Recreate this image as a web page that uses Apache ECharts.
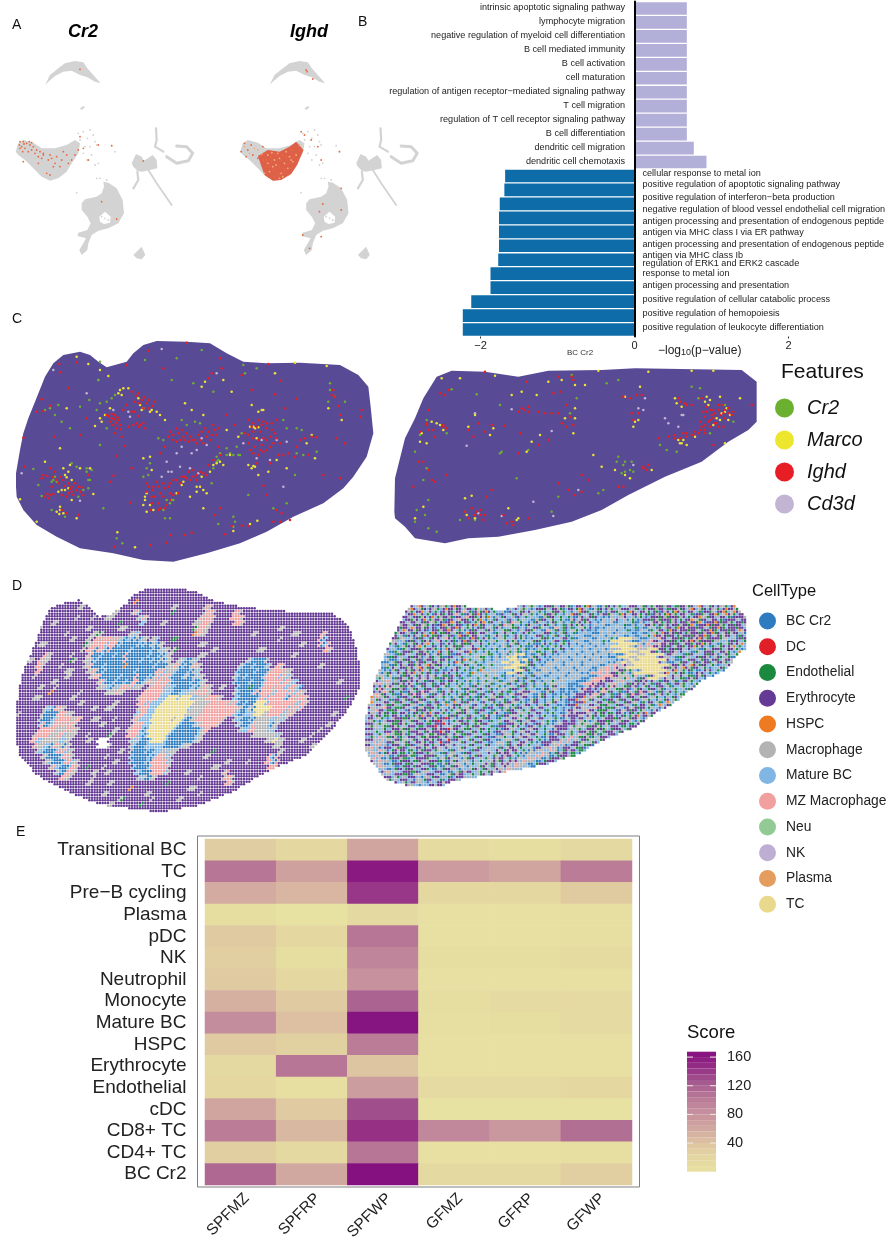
<!DOCTYPE html>
<html><head><meta charset="utf-8"><style>html,body{margin:0;padding:0;background:#fff}#c{width:887px;height:1243px}</style>
<script src="https://cdn.jsdelivr.net/npm/echarts@6/dist/echarts.min.js"></script></head><body><div id="c"></div>
<script>
// ---------- B: enrichment bars
const upTerms=["intrinsic apoptotic signaling pathway","lymphocyte migration","negative regulation of myeloid cell differentiation","B cell mediated immunity","B cell activation","cell maturation","regulation of antigen receptor\u2212mediated signaling pathway","T cell migration","regulation of T cell receptor signaling pathway","B cell differentiation","dendritic cell migration","dendritic cell chemotaxis"];
const upValues=[0.68,0.68,0.68,0.68,0.68,0.68,0.68,0.68,0.68,0.68,0.77,0.935];
const downTerms=["cellular response to metal ion","positive regulation of apoptotic signaling pathway","positive regulation of interferon\u2212beta production","negative regulation of blood vessel endothelial cell migration","antigen processing and presentation of endogenous peptide\nantigen via MHC class I via ER pathway","antigen processing and presentation of endogenous peptide\nantigen via MHC class Ib","regulation of ERK1 and ERK2 cascade","response to metal ion","antigen processing and presentation","positive regulation of cellular catabolic process","positive regulation of hemopoiesis","positive regulation of leukocyte differentiation"];
const downValues=[-1.68,-1.69,-1.75,-1.76,-1.76,-1.76,-1.77,-1.87,-1.87,-2.12,-2.23,-2.23];
// ---------- E: heatmap
const heatRows=["Transitional BC","TC","Pre\u2212B cycling","Plasma","pDC","NK","Neutrophil","Monocyte","Mature BC","HSPC","Erythrocyte","Endothelial","cDC","CD8+ TC","CD4+ TC","BC Cr2"];
const heatSamples=["SPFMZ","SPFRP","SPFWP","GFMZ","GFRP","GFWP"];
const heatValues=[[30,18,62,12,8,15],[105,66,160,72,62,100],[58,50,142,17,17,32],[8,3,16,4,4,6],[33,18,105,4,4,6],[28,10,92,8,8,12],[33,18,80,5,5,5],[55,33,118,10,14,14],[85,42,163,6,10,14],[33,26,100,5,5,5],[16,105,38,5,5,5],[17,6,70,14,14,18],[62,33,130,3,3,3],[100,48,145,90,75,110],[28,16,105,4,4,6],[115,60,166,16,16,28]];
const scoreBins=[0,8,16,24,32,40,48,56,64,72,80,88,96,104,112,120,128,136,144,152,160,168];
const scoreColors=["#E8E3A2","#E3D6A0","#DDC1A2","#D0A59F","#C58F9E","#B87896","#A55A8F","#952F85","#851180"];
// ---------- A: UMAP shapes and expressing cells
const umapBlobs=[
[[135,255],[150,225],[175,205],[195,190],[225,183],[250,187],[262,205],[280,225],[302,250],[285,245],[262,232],[240,225],[215,212],[190,215],[165,228],[145,245]],
[[240,325],[250,318],[255,322],[245,330]],
[[47,455],[55,430],[70,420],[100,428],[125,445],[165,445],[200,435],[225,420],[240,430],[235,460],[215,490],[200,515],[175,535],[150,542],[125,530],[100,505],[75,480],[55,465]],
[[245,610],[255,598],[290,590],[305,580],[312,560],[310,545],[325,548],[350,565],[368,600],[372,640],[355,670],[325,685],[295,692],[275,705],[265,730],[262,750],[245,765],[238,750],[250,730],[258,715],[232,708],[235,698],[262,690],[272,670],[262,650],[245,630]],
[[400,765],[425,740],[436,765],[425,778],[410,775]],
[[395,490],[408,462],[425,470],[432,482],[458,465],[470,480],[472,505],[450,510],[425,515],[412,512],[400,500]]];
const umapHole=[[298,650],[315,635],[332,650],[330,668],[312,672],[300,665]];
const umapStrokes=[[[468,385],[470,420],[465,440],[490,455]],[[500,470],[530,490],[565,482],[578,460],[560,440],[530,438]],[[412,515],[415,540],[400,565]],[[445,510],[470,550],[515,615]]];
const umapSparse=[235,400,250,395,270,390,280,405,262,415,240,420,285,425,255,440,270,440,290,435,250,460,275,465,295,490,285,495,262,480,300,535,320,540,290,535,230,578,345,455,335,437,315,655,305,650,325,660];
const cr2Cells=[60,425,70,425,80,430,65,440,75,445,90,435,100,440,110,450,60,445,85,455,105,460,70,485,115,470,130,465,125,475,150,465,170,470,145,480,165,490,185,480,205,490,215,480,200,465,225,465,235,450,240,410,250,445,265,480,295,435,140,520,150,525,160,500,180,500,115,490,305,605,350,657,240,208,335,437,430,483,130,460,95,450,120,455,155,475,190,455,72,432,88,425,58,435,68,455,95,428];
const ighdRedPatch=[[100,468],[130,450],[165,455],[195,440],[215,425],[237,450],[218,495],[200,522],[170,540],[145,542],[120,525]];
const ighdOrange=[110,470,125,480,140,470,155,465,170,480,185,470,195,490,210,470,225,450,135,500,150,510,165,500,180,510,190,525,150,530,125,500,115,480,175,465,205,450,160,520,140,485,200,505,60,430,70,450,85,465,100,475,50,455,65,470,80,435,115,440,230,395,240,405,260,420,280,440,290,480,245,210,265,237,248,215,345,455,295,612,350,630,290,710,255,745,350,565,235,705,285,635];
const ighdPale=[130,465,150,480,165,475,180,490,200,480,145,500,170,520,190,505,215,465,60,440,90,445,75,460,100,450,120,520,130,490,155,495,175,530,205,485,112,462,142,458,185,455,225,435,160,460,195,470,135,515,165,535];
// ---------- C: spatial feature dots
const tissueC1=[[48,440],[48,400],[60,330],[70,280],[85,235],[105,185],[135,110],[160,70],[190,45],[240,35],[270,45],[295,65],[320,82],[380,65],[400,40],[430,15],[470,3],[560,5],[630,10],[680,40],[730,65],[800,70],[900,68],[1020,75],[1075,105],[1105,140],[1112,200],[1120,280],[1100,350],[1060,410],[1030,445],[970,490],[880,530],[800,575],[720,610],[620,640],[520,665],[430,660],[340,640],[240,625],[170,590],[110,555],[70,510],[50,470]];
const tissueC2=[[28,470],[30,370],[45,310],[60,250],[90,190],[115,130],[155,65],[200,47],[300,50],[400,65],[490,47],[650,45],[750,40],[1070,45],[1115,80],[1115,200],[1090,225],[1030,260],[950,320],[840,365],[730,420],[650,465],[560,500],[450,525],[340,545],[250,550],[180,565],[90,550],[60,515],[30,490]];
const c1Ighd=[320,225,335,235,345,225,355,240,340,255,350,265,330,245,360,255,395,155,415,160,405,185,425,180,440,190,465,185,430,205,405,215,380,195,395,215,400,255,415,260,430,250,435,265,370,210,385,260,345,280,365,290,
130,405,150,385,165,395,180,410,170,420,190,420,205,430,215,440,235,440,220,465,240,455,250,465,205,460,185,465,150,465,135,470,145,475,200,520,185,510,235,525,225,430,265,405,155,440,
510,275,530,265,545,270,560,280,575,300,595,285,615,265,640,255,655,265,650,285,630,300,610,310,590,310,565,305,540,300,520,300,495,320,480,340,655,320,660,345,640,360,625,375,
440,430,460,440,470,425,490,430,505,440,520,420,540,430,555,410,570,420,590,420,600,395,620,405,565,395,580,390,510,460,490,470,475,490,455,490,450,510,480,505,500,495,520,465,535,460,
745,240,760,250,775,240,790,245,800,265,815,250,830,240,760,275,780,275,800,300,820,310,785,315,765,320,745,285,735,280,750,330,775,345,790,335,810,320,835,345,850,345,865,340,885,350,890,320,900,300,915,295,935,290,950,292,925,345,770,370,810,370,
855,205,1000,150,995,165,1005,170,1015,198,1020,225,1082,230,1085,210,
205,145,125,178,150,197,110,215,130,213,260,235,162,290,240,285,70,293,375,318,350,348,74,380,395,385,340,407,330,425,390,488,680,225,705,255,890,176,825,163,755,150,843,122,805,72,725,105,635,100,660,55,665,85,625,115,490,85,380,75,230,67,178,72,180,97,560,8,445,32,
845,520,830,510,820,545,840,545,870,540,800,465,790,437,745,558,725,557,695,558,675,583,660,505,645,525,575,578,555,585,510,585,498,608,450,615,342,620,970,405,1020,415,1010,295,1035,310,
325,228,342,238,352,232,335,222,348,248,362,268,410,250,420,255,408,168,418,190,432,172,445,205,458,198,445,180,415,228,
142,408,158,412,175,430,195,438,210,447,228,450,245,442,200,470,215,455,160,462,142,462,125,415,
520,285,535,280,550,290,570,290,585,300,600,300,620,290,635,285,645,270,625,275,605,275,555,300,530,305,505,290,
445,440,458,450,475,440,480,460,495,445,510,430,530,420,545,410,560,415,580,410,590,405,610,400,465,470,475,510,495,505,510,480,455,470,440,455,
755,260,770,260,785,255,800,250,815,270,825,280,760,295,775,300,790,295,810,290,830,295,840,310,800,330,780,330,760,340,745,310];
const c1Marco=[355,160,370,145,385,145,415,175,430,205,450,215,480,225,495,240,300,235,285,258,330,205,200,205,180,325,230,50,265,72,300,90,325,108,
190,385,210,375,195,405,240,385,270,385,215,420,195,450,175,455,215,480,180,500,170,515,190,520,230,535,135,365,280,462,
430,355,450,350,455,390,435,470,430,495,440,515,460,510,530,460,590,440,610,450,620,460,550,425,630,395,605,410,650,370,670,375,690,345,680,270,
755,195,785,210,765,265,750,260,770,295,745,375,765,380,775,405,805,395,830,360,860,385,935,285,920,310,945,355,715,290,
605,140,615,125,670,120,695,155,555,190,575,210,610,225,825,100,885,68,980,78,1025,240,985,205,352,577,405,622,60,478,110,545,570,470,610,505,772,542,750,552,700,573,
360,150,365,165,420,195,425,210,455,210,470,215,305,245,315,225,
205,395,205,445,185,450,180,510,178,522,200,412,
440,460,435,480,450,495,600,440,590,455,545,435,640,375,660,365,
760,260,775,262,755,385,760,378,790,210,775,215];
const c1Cr2=[360,150,345,165,335,175,320,185,300,190,290,210,320,265,300,315,240,200,175,195,150,205,135,210,165,225,185,245,210,265,295,120,268,180,
160,420,165,410,215,370,230,380,260,395,270,420,265,445,250,450,235,470,125,468,155,510,195,530,115,435,100,387,
440,385,445,405,430,410,450,370,475,295,490,300,545,240,560,255,585,245,600,250,650,350,655,360,640,385,635,430,520,480,510,490,490,510,
725,280,680,325,700,345,710,320,720,345,680,345,850,240,860,265,890,265,905,270,890,340,910,345,950,335,885,405,
990,130,990,150,1005,170,1035,185,985,185,605,30,530,55,640,155,580,130,515,120,435,60,295,120,730,75,735,100,770,85,700,530,705,545,700,560,655,552,745,465,820,505,860,490,350,595,367,610,310,505,495,535,510,535,300,65,
155,425,170,425,260,385,275,390,265,420,500,480,515,480,650,365,660,340,690,340,715,345];
const c1Cd3d=[160,90,260,160,485,27,390,230,385,215,340,210,545,320,530,340,575,340,590,330,605,295,620,315,500,365,505,395,515,395,540,380,570,385,485,410,595,400,730,310,785,300,830,300,860,305,770,355,810,360,650,100,850,440,65,400,240,482];
const c2Ighd=[165,115,180,120,190,105,130,165,125,210,130,225,150,245,175,215,185,220,105,230,250,225,265,245,280,205,300,230,320,210,357,212,405,235,400,295,460,270,490,255,
100,320,115,320,130,345,140,375,150,380,185,360,85,395,
430,155,410,160,400,170,460,170,480,175,500,175,520,175,545,150,555,185,565,210,545,215,530,205,505,115,525,110,565,75,520,65,
240,470,260,460,275,470,285,480,250,490,300,480,320,405,305,425,355,480,365,505,380,500,430,490,
715,125,735,130,755,120,770,120,740,175,760,175,745,195,775,340,790,330,700,395,715,395,590,360,610,375,520,385,550,405,570,420,590,410,
880,130,900,145,920,150,950,130,965,170,980,180,945,200,960,210,985,190,1000,165,1010,150,1030,175,940,235,920,240,895,235,870,240,850,245,960,225,975,215,995,205,1015,215,1040,180,1100,150,985,270,
820,250,300,50,560,65,425,80,
885,140,905,150,955,170,960,185,970,200,950,215,930,230,905,245,885,250,975,165,990,175,1005,180,1020,165,1020,190,1000,215,
125,205,175,210,145,225,420,165,430,170,285,465,270,480,295,495,385,510,
965,155,985,165,1000,150,1015,175,1030,160,1045,170,975,195,990,205,960,235,945,225,870,250,905,235,925,240,775,335,785,345];
const c2Marco=[170,70,225,70,330,62,155,205,140,200,110,235,175,225,165,210,105,260,125,265,
240,430,260,422,245,480,270,490,395,495,400,490,370,460,90,490,115,455,
380,120,410,110,455,120,490,80,530,75,570,90,600,90,570,160,570,190,540,190,565,235,465,240,440,260,425,290,315,240,325,220,250,215,270,180,
765,95,720,125,750,200,745,215,760,195,800,345,735,370,720,360,690,345,650,335,625,300,
870,130,890,155,965,125,975,135,1005,125,1020,170,1005,195,985,210,1030,195,880,255,905,270,890,265,930,245,1020,265,1065,130,920,47,985,47,790,50,640,47,
1010,175,1025,160,1035,180,995,190,970,150,960,140,875,145,885,265,895,255];
const c2Cr2=[200,103,275,118,345,150,125,195,105,240,185,235,90,290,125,340,115,375,
95,465,90,500,120,480,130,435,240,470,270,495,225,495,130,520,155,530,
345,295,350,290,430,285,575,130,555,175,520,425,500,470,640,415,655,405,
700,305,720,320,695,320,715,330,740,320,720,350,745,350,710,355,735,345,
920,95,945,100,940,130,1045,200,975,235,1020,150,825,270,845,285,875,290,395,370,560,60,665,85,700,75];
const c2Cd3d=[380,163,245,272,270,175,760,160,775,165,780,130,890,180,895,180,850,205,840,190,880,215,280,475,350,483,500,228,445,440,580,405,505,483,745,330];
// ---------- D: spatial cell types (e Erythrocyte, b BC Cr2, r DC, n Endothelial, o HSPC, g Macrophage, m Mature BC, p MZ Macrophage, u Neu, k NK, l Plasma, y TC)
const cellTypes=[["BC Cr2","b","#2E7CBF"],["DC","r","#E01F26"],["Endothelial","n","#1B8A3F"],["Erythrocyte","e","#653A94"],["HSPC","o","#EE7A22"],["Macrophage","g","#B3B3B3"],["Mature BC","m","#7FB6E3"],["MZ Macrophage","p","#F29F9F"],["Neu","u","#92C994"],["NK","k","#BEAED4"],["Plasma","l","#E49C5F"],["TC","y","#E9D98C"]];
const outlineD1=[[45,480],[47,420],[55,350],[70,290],[100,220],[125,150],[150,100],[200,80],[240,75],[265,95],[300,125],[330,120],[380,85],[400,60],[440,42],[500,40],[580,45],[640,75],[700,90],[800,105],[1000,115],[1040,145],[1065,200],[1080,280],[1080,340],[1040,410],[990,470],[920,540],[800,590],[700,650],[600,690],[480,712],[300,690],[200,650],[110,600],[60,540]];
const outlineD2=[[15,440],[20,410],[30,380],[45,315],[70,250],[90,200],[130,122],[150,90],[300,92],[430,105],[490,90],[680,85],[720,73],[750,73],[760,85],[1120,85],[1160,125],[1160,220],[1130,240],[1100,285],[1030,315],[950,380],[870,425],[820,460],[740,490],[650,540],[550,570],[460,587],[280,618],[240,635],[160,635],[85,618],[40,570],[15,525]];
// D1: row, column, cells; every unlisted cell inside the outline is Erythrocyte
const patchesD1=[
"8 30 ggng","8 44 ggmg","9 28 gg","9 31 ppgpppgpggmbmmbgbmgg","9 52 ggm","10 27 ng","10 29 gpppppmpppbmbbbbbbmbmbbgmbgg","11 26 g","11 28 ppgbppmbpbbbbbbbmbbbbbbbmbbgmgg","12 28 gpbbbmbbbbmbbbpbbbbbbbbmbbbmbmgg","13 27 gg","13 29 gbmbbbbbbbbbbpbbbbbmbbbmbbgbmgg","14 27 gg","14 29 pbbbbmbbbbbbbobbbbbbbbbbmbbbbgg","15 28 gg","15 30 pgbbmbbbbbbbbbbbmbbbbbbbpgpmgg","16 29 gg","16 31 ppbbbbbbbmbbbbbpbbbbmbgpmggg","17 32 gpmbbbmbbbmbbppbbmgpgg","18 32 gggmmbgmgppgpmggg","19 35 ggggpgg",
"13 62 ggmbbgmg","14 58 gggpgbmbbgpgg","15 60 gmbbbbmbgmg","16 56 pgpmbbbbmgbbgmgg",
"17 54 ppgppmbbbbbbbmbbmgg","18 51 gpppppmgmmbbbbbbmmbggpgg","19 49 pppppppgmmmbbbmmmgggpgppgg","20 47 gpppppppmmmyyyymyyyymmggggppppgg","21 47 pppmpmmmmyyyyyyyyyyyyggggggpppppppg","22 47 gpppmmmyyyyyyyyyyyymgggggppppppppppg","23 46 mgppmmmyyyyyyyyyyyyggggggppppppppppg","24 45 gpgmmmmyyyyyyyygyyymbbggppppppppppg","25 45 gpppmmmyyyyyyyyyymbbbbbmggppppppg","26 43 gppppmbmyyyyyyyyymbbbbbbbbbmgpp","27 43 ppppmmbmyyyyyyymbbbbbbbbbbmgg","28 44 gmgmbbbmyyyyymbbbbbbbbbbmgg","29 44 gmbbbbmmmmmmmbbbbbbmggg","30 44 gbbbbbmbbmmmggmggg","31 44 mbbbbbbmbmpppgmg","32 44 mbbbbbmbppppppmg","33 45 mbbbbbmppppppg","34 46 mmbbbbpppppmg","35 47 gmgbbgg",
"13 88 gmbbbbbg","14 85 gmbbbmbbbbmg..ppg","15 84 mbbbbbbmbbbbgpppppgg","16 83 gmbbmbbbbbbmpppppmpgmg","17 83 mbbbbbmbbbbmppppppmppgmm","18 84 mbbbbnbbbmppppgpppmmppgmb","19 83 gmbbbbbmpbppppgmppppmpgmpgg","20 83 mmbbbbbbbmppmppppppmbppgpppg","21 82 gpmbbmbbbyyyymppppppppppgmppg","22 80 ppppggbbmgbyyyyyyppppppmpgpmp","23 79 ppppmmbbmmmgyyyggpppppmggpg","24 83 gmmbbbmbggggggmmggmg","25 84 gmbbbmpgggggmbgg","26 85 gmmmppgggggmgm","27 90 gggggggggmg","28 95 gggyggg","29 98 ggg",
"22 12 gmmbppgg","23 11 gbbbbbpppggg","24 10 gbbbbmgpppppggpp","25 10 mpbbmgppgpgppg","26 10 ppppppggggpgpgg","27 8 gpppppgggppmgggg","28 7 ppmmgggggggmmgg","29 8 pgggmmbgpggbgg","30 9 gmmbbbbmpgpmgg","31 11 ggbbbbbmppgg","32 12 ggmbbbbmppmgg","33 14 gpmmbbbmppg","34 16 gmbbppgg","35 18 ppgg",
"4 83 ppg","5 82 ppppg","6 83 pppg","3 72 gpg","4 72 gppg","5 70 gpgppg","6 68 gggpppg","7 68 ngppgg","8 68 ogpgg","5 47 gmpg","4 45 gpm","6 48 mm","8 116 pg","9 115 pbm","10 115 pbmp","11 117 ppg","12 12 pgg","13 10 pggg","14 9 ppg","15 9 pp","31 96 pmbp","32 95 ppmbp","33 96 ppp","34 79 gp","35 79 gppg","36 80 ppg",
"28 32 ....","29 32 ....",
"2 46 o","3 60 gg","4 38 gg","4 60 n","5 30 g","5 35 ggg","6 40 n","6 56 gg","7 40 ggg","7 100 gg","8 105 ggg","8 20 g","9 22 gg","9 60 nn","10 10 ggg","10 70 ggg","11 60 gn","11 75 gg","12 70 ggg","13 22 ng","14 18 g","15 104 g","16 20 gg","16 70 gg","17 122 gg","18 16 g","18 78 gg","19 14 o","19 40 gg","20 22 gg","20 125 n","21 25 gg","22 35 ggg","23 120 gg","24 38 g","25 33 gg","26 115 g","27 36 ng","28 28 gg","29 112 gg","30 40 gg","30 75 n","31 35 g","32 80 gg","33 28 n","33 75 ggg","34 35 gg","36 58 n","36 36 gg","37 44 o","38 50 gg","39 40 gn","39 62 gg","40 48 n",
"3 25 gg","5 24 g","6 15 gg","7 28 gg","7 10 g","8 90 gg","9 100 g","10 108 gg","11 92 ggg","12 22 g","12 105 gg","13 6 gg","14 115 gg","15 20 ggg","16 8 g","17 15 gg","18 10 gg","19 25 g","20 8 ggg","21 38 gg","22 30 gg","23 2 g","24 30 ggg","25 118 gg","26 38 gg","27 28 g","27 112 g","28 108 gg","29 36 g","30 100 gg","31 72 gg","32 38 gg","32 88 g","33 34 g","34 30 gg","34 65 gg","35 30 g","35 70 g","36 28 gg","37 66 ggg","38 34 gg","38 70 g","39 52 g","40 36 gg"];
// D2: noise-like mix read row by row (read cyclically across the row), TC zones listed in overlayD2
const mapD2=[
"16 nemgoemgnemeggnmeoeegnemgeemnpmgemngemmnbgmemgngmbmeeengmeegnbmeemnoegmbbgnemegnmmgeeemgnemngeengeemnneeg",
"14 oegnmeeomgemnmbegenmeegpmnbegneoemnmmgbbemmgnemeggmnmbmgneegnmmbgmoeenmgmenmbgeengmmnoegmeegnmenbegemnoegnmeegmnbeengmeeonmg",
"14 eegmeengemeomngeegnbeemgpeenmegnombgmnemmgbemmnmgmmbbgneemgnmmnmbbgemgenemmbmbgmmggemmgbgnmbmeeenegneeengemnmeeoggneemgeemnbee",
"12 neemgeegmeneggnmebeeogenmeebmngeomnemmgbmnepggnmmbmnegmmbgenmgbmmnbgemngemmbmgmmgbbmmgmmnbbgbmmgeegnmengemeengeenombeeeoeneegnmee",
"12 eneemogeegnemebmeengeeoegmngbmenemgmnegbmmgnnemmbgmeengmmbbpgmnemnbmggnmembbmbmgmmgmgbmmmnbmbbgmgbnmgeemnoeegeeeneegmneeoenmee",
"10 engeemgbnemegmnoemnneemgnebmoeengeegmmbnmgegmnbmmegnmbmmgeenmbmgnemmnbmmgmmbbbgmmgmbgmggmmbbmmbbmggnmoeegeneemngeeenegeeonemg",
"10 eenggmmgbenemmnegemgpemnmenbmeoenmegnmbmggnmmgemngbmbmmgnenmbmmgeemnbbmggmmbbgmmgmnmbgmmgmgbmbbbmgmgpeemgeenenmnegeoegnee",
"10 gemmbnmgnemegomnmmebgemnmgennegmgemmnmbmmgmbggnemmgnmbbbgemnmbmgnmemmbgmmmbgmgmbgmmgmgmbgmmmbbbgpmggpeegeenemgeenmeeon",
"8 emgmbbngmeeenmgeegnmbmoemgnemmggeeomnmmbgnmmbmgmgnmgnbmbmgmnnmbmgnemmbmgmmgmbmgmmgbmgmgmbmgmmmbbbgpgmgeenmeeneegm",
"8 gmmbnnemgmmeneegbmgenmgnbbeemmgnmmgmggnnmmbmgbgmmgmnbmbbmgnemmbmbgmmgmgbmgmmgbgmgmgbmmbbbbgppmgeeegmeenomeeg",
"6 emgbbbmgneemgnebgeenmgeegnmgbmeognmmggnmmbmgmgmmgmgbbmmbbgnemmbmbggmgmmbgmgmgmbgmgmgmgmmbmbbgpmpgeegenneeog",
"6 mggbbnmegmeengemgoegneemgnmbmmgenmmgbnmmgnmgmmmgmmmbbmgnenmmbmgggmgmbgmgmgmbgmgmgmbbmggppmpeggeemng",
"4 ngmbmbgnemmegnegeomgnmenmbbmegemmnmbmmnogmmgggmgmmmbbbmnenmmbbgggmgmbgmgmgmbgmgmbmbgpgppmpgeeng",
"4 gggmnpmmgbneegmnegmeggemgnnbegnemmbnmmgmmngmggmnbmmbmgggbmnemmmbbgmmmgmbgmgmgmgmbbbmgppppeeg",
"4 emggpgmgmenegemegmnbeemgnbmeegnmmbgnmmbmgnmgmgnbmmggnembmgnemmbgmgnmgggmmmmbbbbmgpppegee",
"4 memnpegmgnnegebmgnemmneemgnbmmgnmmgbnemgmnemmgnmbmggmneebmgnmmmbbgnemggmbbmbbbmgepee",
"4 megpgnemmnbbegmnepeeggmbnemgemnmmbgnnemgmbnemmgemnnmbggeeeggmmbbgnemmbbmbmbbmgeeee",
"2 ompggnemgmnbeemgneemgneemggnmmbgmnemgnmbnemnmggneemgmnbmgeemmbbgnemmbmmnggbmbeee",
"2 omgmgeemgnnegmmneeggmbnmeemgnbmogmenegmgmbemmgnmbgneeggmnmbmgeemmbggnemmmbbmbeee",
"2 ggmggpeemnnnegmmbeggeneemngmmbgemnmggnegmmnbeemmbnmgbgneemgmnmgeemmgbnmmbmmbgee",
"0 eeggmegnemnnmeegbmenmngeomeegnmbmgnenegmmnegmmbnpemmbbneegggmnmgeemmbgnmmbbmgegee",
"0 meemggnmbmgeeennegmgneegmbgneeregmbmngeemnmgneemmbnmmgmeeggmnemggeemmgmnmbbgmee",
"0 eeemgnggmgnneegnmgmeeemnnmeeermemgmgneemmngneegmmmnbbeeegmngemmbeegmnmbmggee",
"0 eeemgmgnmmeeegnengmneeegmnegeeergeemgnnemmgnemnmmnmbeeggmmnemggeemmnmmbge",
"0 eeemmngmpmgnnegbnmgeeemgnngeeengmegmnneemgmmneemmbbegggnmmemggeegmmnmbbg",
"0 eeeggmpmggmeenggmgnemgeegnmeemgrbeegmmgnemmgneemmbbmgggmnemmgeegmnmbme",
"0 eemggpmgbmeeemgnnebmggeemngmeeggmegmmmgnemmmgnemmgmgmnemgeegmnmmgmb",
"0 gggmmpggbmnegeemnnmbgneeemnggmmbnemggmmbneemmggmmegmnegeegmnmbgb",
"0 ggmmpgpmgbbmneeegnnbmgeeeengmmbggnemggmbgneemmgmngmegeegmnmb",
"2 egmpgggmbbmneeemnnegmgeeennmbbgnemgggmbgmnmgmgegnemgeg",
"2 ggmpggmgmbbmneemneegmmeenmbbgmneeggmbgmmgnegmnegmge",
"6 egpgmgmmeeennebgggmmeeemgbbmgnegeemmgnmgnegm",
"8 eemgnmgmeeemmbggmneemgmnbmeeegmgmme",
"10 eemmgnmeeggmmbgmmeeg",
"18 eegneemggmng"];
const overlayD2=[
"6 95 yyyyygg","7 95 yyyyyyygg","8 95 gyyyyyyggggyyyy","9 97 gyyyygggyyyyyyy","10 97 ggyyggyyyyyyyyyy","11 100 gyyyyyyyyyyyyyg","12 103 gyyyyyyyyyg","13 108 gyyyyg",
"9 56 ygyy","10 54 yyygmyy","11 54 gyyyyy","12 56 yyyg"];
const legendC=["Cr2","Marco","Ighd","Cd3d"];
const legendD=cellTypes.map(t=>t[0]);
const colorC={Cr2:"#6BB02F",Marco:"#EDE62F",Ighd:"#E71F25",Cd3d:"#C3B4D4"};

const pairs=a=>{const o=[];for(let i=0;i<a.length;i+=2)o.push([a[i],a[i+1]]);return o;};
const font="Arial, 'Liberation Sans', sans-serif";
function hidden(i,max,inv,g){return {gridIndex:g,type:'value',min:0,max:max,inverse:inv,show:false,splitLine:{show:false}};}
const grids=[],xAxes=[],yAxes=[],series=[];
function spatial(l,t,w,h){const g=grids.length;grids.push({left:l,top:t,width:w,height:h,outerBoundsMode:'none'});xAxes.push(hidden(g,w*3,false,g));yAxes.push(hidden(g,h*3,true,g));return g;}
function poly(g,pts,color,z){series.push({type:'custom',coordinateSystem:'cartesian2d',xAxisIndex:g,yAxisIndex:g,silent:true,z:z||1,encode:{x:0,y:1},data:pts,
 renderItem:(p,api)=>p.dataIndex?null:{type:'polygon',shape:{points:pts.map(q=>api.coord(q))},style:{fill:color}}});}
function stroke(g,pts,color,w){series.push({type:'custom',coordinateSystem:'cartesian2d',xAxisIndex:g,yAxisIndex:g,silent:true,z:1,encode:{x:0,y:1},data:pts,
 renderItem:(p,api)=>p.dataIndex?null:{type:'polyline',shape:{points:pts.map(q=>api.coord(q))},style:{stroke:color,fill:null,lineWidth:w,lineJoin:'round',lineCap:'round'}}});}
function dots(g,name,arr,color,size,z,sym){series.push({type:'scatter',name,xAxisIndex:g,yAxisIndex:g,data:arr,symbol:sym||'circle',symbolSize:size,itemStyle:{color,opacity:1},silent:true,z:z||3,animation:false,progressive:0});}
function inside(pt,pg){let c=false;for(let i=0,j=pg.length-1;i<pg.length;j=i++){const a=pg[i],b=pg[j];if((a[1]>pt[1])!==(b[1]>pt[1])&&pt[0]<(b[0]-a[0])*(pt[1]-a[1])/(b[1]-a[1])+a[0])c=!c;}return c;}

// A
const gA1=spatial(0,0,200,310),gA2=spatial(224.5,0,200,310);
[gA1,gA2].forEach(g=>{umapBlobs.forEach(b=>poly(g,b,'#D3D3D3'));umapStrokes.forEach((s,i)=>stroke(g,s,'#D3D3D3',i===3?1.8:i===1?3:2.2));poly(g,umapHole,'#FFFFFF',2);dots(g,'cells',pairs(umapSparse),'#D3D3D3',1.8,2);});
dots(gA1,'Cr2 cells',pairs(cr2Cells),'#E8693F',1.8);
poly(gA2,ighdRedPatch,'#DE6049',2);
dots(gA2,'Ighd cells',pairs(ighdOrange),'#E8693F',1.8);
dots(gA2,'Ighd high',pairs(ighdPale),'#F0B070',1.8,4);

// B
const gB=grids.length;
grids.push({left:457.4,top:1.5,width:331.1,height:335,outerBoundsMode:'none'});
xAxes.push({gridIndex:gB,type:'value',min:-2.3,max:2,splitLine:{show:false},axisLine:{show:false},axisTick:{show:true,customValues:[-2,2],length:2,lineStyle:{color:'#333'}},
 axisLabel:{customValues:[-2,0,2],fontFamily:font,fontSize:11,color:'#222',margin:4,formatter:v=>String(v).replace('-','\u2212')}});
const allTerms=upTerms.concat(downTerms);
yAxes.push({gridIndex:gB,type:'category',inverse:true,data:allTerms,axisTick:{show:false},axisLabel:{show:false},axisLine:{onZero:true,lineStyle:{color:'#000',width:2}},z:5});
const lab=(pos,d)=>({show:true,position:pos,distance:d,fontFamily:font,fontSize:9.1,lineHeight:11,color:'#222',formatter:p=>p.name});
const downShift=[-2,-5,-6,-8,-4.5,4.5,4,0,-2,-2,-2,-2];
series.push({type:'bar',name:'up',xAxisIndex:gB,yAxisIndex:gB,barWidth:12.7,barGap:'-100%',animation:false,silent:true,itemStyle:{color:'#B2B0D8'},label:Object.assign(lab('left',9.5),{offset:[0,-1]}),data:upValues.concat(downValues.map(()=>null))});
series.push({type:'bar',name:'down',xAxisIndex:gB,yAxisIndex:gB,barWidth:12.7,barGap:'-100%',animation:false,silent:true,itemStyle:{color:'#0E6CA9'},label:lab('right',8),
 data:upValues.map(()=>null).concat(downValues.map((v,i)=>({value:v,label:{offset:[0,downShift[i]]}})))});

// C
const gC1=spatial(0,340,385,235),gC2=spatial(385,355,502,200);
poly(gC1,tissueC1,'#594A95');poly(gC2,tissueC2,'#594A95');
[[gC1,{Cr2:c1Cr2,Marco:c1Marco,Ighd:c1Ighd,Cd3d:c1Cd3d}],[gC2,{Cr2:c2Cr2,Marco:c2Marco,Ighd:c2Ighd,Cd3d:c2Cd3d}]].forEach(([g,m])=>{
 ['Cd3d','Cr2','Marco','Ighd'].forEach(n=>dots(g,n,pairs(m[n]),colorC[n],2.5));});

// D
const gD1=spatial(0,575,370,240),gD2=spatial(360,575,527,240);
function expand(base,overlay,x0,y0,nRows,fallback,outline,lag){
 const over=new Map(),out={};cellTypes.forEach(t=>out[t[1]]=[]);
 (overlay||[]).forEach(l=>{const [r,s,str]=l.split(' ');[...str].forEach((ch,i)=>{if(ch!=='.'||str.length===4)over.set(r+':'+(+s+i),ch);});});
 const rows=(base||[]).map(row=>{const [s,str]=row.split(' ');return {s:+s,str};});
 const at=(r,c)=>{const k=r+':'+c;if(over.has(k))return over.get(k);if(!rows.length)return fallback;const R=rows[r],n=R.str.length;return R.str[(((c-R.s)%n)+n)%n];};
 for(let r=0;r<nRows;r++)for(let c=0;c<150;c++){
  [[4,at(r,c)],[12,at(r,c+lag)]].forEach(([dy,ch])=>{if(!out[ch])return;const p=[x0+8*c+4,y0+16*r+dy];if(inside(p,outline))out[ch].push(p);});
 }return out;}
const d1=expand(null,patchesD1,40,40,42,'e',outlineD1,1),d2=expand(mapD2,overlayD2,15,90,mapD2.length,'m',outlineD2,3);
cellTypes.forEach(t=>{dots(gD1,t[0],d1[t[1]],t[2],2.5,3);dots(gD2,t[0],d2[t[1]],t[2],2.4,3,'rect');});

// E heatmap
const gE=grids.length;
grids.push({left:205,top:839,width:427,height:346,outerBoundsMode:'none'});
xAxes.push({gridIndex:gE,type:'category',data:heatSamples,position:'bottom',offset:2,axisLine:{show:false},axisTick:{alignWithLabel:true,length:3,lineStyle:{color:'#333'}},axisLabel:{interval:0,rotate:45,fontFamily:font,fontSize:15.5,color:'#222',margin:15,padding:[0,-8.5,0,0]},splitArea:{show:false}});
yAxes.push({gridIndex:gE,type:'category',data:heatRows,inverse:true,offset:7.5,axisLine:{show:false},axisTick:{length:3,alignWithLabel:true,lineStyle:{color:'#333'}},axisLabel:{interval:0,fontFamily:font,fontSize:19,color:'#222',margin:11},splitArea:{show:false}});
const heatData=[];heatValues.forEach((row,r)=>row.forEach((v,c)=>heatData.push([c,r,v])));
const heatIdx=series.length;
series.push({type:'heatmap',xAxisIndex:gE,yAxisIndex:gE,data:heatData,silent:true,animation:false});

// colour bar
const gS=grids.length;
grids.push({left:687,top:1051.7,width:29,height:120,outerBoundsMode:'none'});
xAxes.push({gridIndex:gS,type:'value',min:0,max:1,show:false,splitLine:{show:false}});
yAxes.push({gridIndex:gS,type:'value',min:0,max:167.5,splitLine:{show:false},axisLine:{show:false},position:'right',axisTick:{show:false},
 axisLabel:{customValues:[40,80,120,160],fontFamily:font,fontSize:14.5,color:'#222',margin:11}});
const binData=scoreBins.slice(0,-1).map((b,i)=>[b,scoreBins[i+1],(b+scoreBins[i+1])/2]);
const barIdx=series.length;
series.push({type:'custom',coordinateSystem:'cartesian2d',xAxisIndex:gS,yAxisIndex:gS,silent:true,animation:false,encode:{y:[0,1]},data:binData,
 renderItem:(p,api)=>{const a=api.coord([0,api.value(0)]),b=api.coord([1,Math.min(api.value(1),167.5)]);
  return {type:'rect',shape:{x:a[0],y:b[1],width:b[0]-a[0],height:a[1]-b[1]},style:{fill:api.visual('color')}};}});
series.push({type:'custom',coordinateSystem:'cartesian2d',xAxisIndex:gS,yAxisIndex:gS,silent:true,z:7,encode:{y:0},data:[[40],[80],[120],[160]],
 renderItem:(p,api)=>{const a=api.coord([0,api.value(0)]),b=api.coord([1,api.value(0)]),st={stroke:'#F4E9E4',lineWidth:1};
  return {type:'group',children:[{type:'line',shape:{x1:a[0],y1:a[1],x2:a[0]+6,y2:a[1]},style:st},{type:'line',shape:{x1:b[0]-6,y1:a[1],x2:b[0],y2:a[1]},style:st}]};}});

const txt=(x,y,t,size,extra)=>({type:'text',x,y,silent:true,z:20,style:Object.assign({text:t,fontFamily:font,fontSize:size,fill:'#111',textVerticalAlign:'middle'},extra||{})});
const option={animation:false,backgroundColor:'#fff',grid:grids,xAxis:xAxes,yAxis:yAxes,series,
 visualMap:[{show:false,type:'continuous',min:0,max:166,dimension:2,seriesIndex:[heatIdx,barIdx],inRange:{color:scoreColors}}],
 legend:[
 {data:legendC,left:770,top:393,orient:'vertical',icon:'circle',itemWidth:19,itemHeight:19,itemGap:12,selectedMode:false,textStyle:{fontFamily:font,fontSize:20,fontStyle:'italic',color:'#111',padding:[0,0,0,8]}},
 {data:legendD,left:754,top:607.5,orient:'vertical',icon:'circle',itemWidth:17,itemHeight:17,itemGap:8.75,selectedMode:false,textStyle:{fontFamily:font,fontSize:13.8,color:'#222',padding:[0,0,0,5]}}],
 graphic:[
 txt(12,25,'A',14),txt(358,22,'B',14),txt(12,319,'C',14),txt(12,586,'D',14),txt(16,832,'E',14),
 txt(83,32,'Cr2',18,{fontWeight:'bold',fontStyle:'italic',textAlign:'center',fill:'#000'}),
 txt(309,32,'Ighd',18,{fontWeight:'bold',fontStyle:'italic',textAlign:'center',fill:'#000'}),
 txt(580,353,'BC Cr2',8,{textAlign:'center',fill:'#333'}),
 {type:'text',x:658,y:351,silent:true,z:20,style:{text:'\u2212log{s|10}(p\u2212value)',fontFamily:font,fontSize:12,fill:'#222',textVerticalAlign:'middle',rich:{s:{fontSize:9,verticalAlign:'bottom',fontFamily:font,fill:'#222',padding:[4,0,0,0]}}}},
 txt(781,372,'Features',21),txt(752,591,'CellType',16.5),txt(687,1033,'Score',18.5),
 {type:'rect',shape:{x:197.5,y:836,width:442,height:351},silent:true,z:15,style:{fill:null,stroke:'#7F7F7F',lineWidth:1}}
 ]};
const chart=echarts.init(document.getElementById('c'),null,{renderer:'canvas'});
chart.setOption(option);
</script></body></html>
